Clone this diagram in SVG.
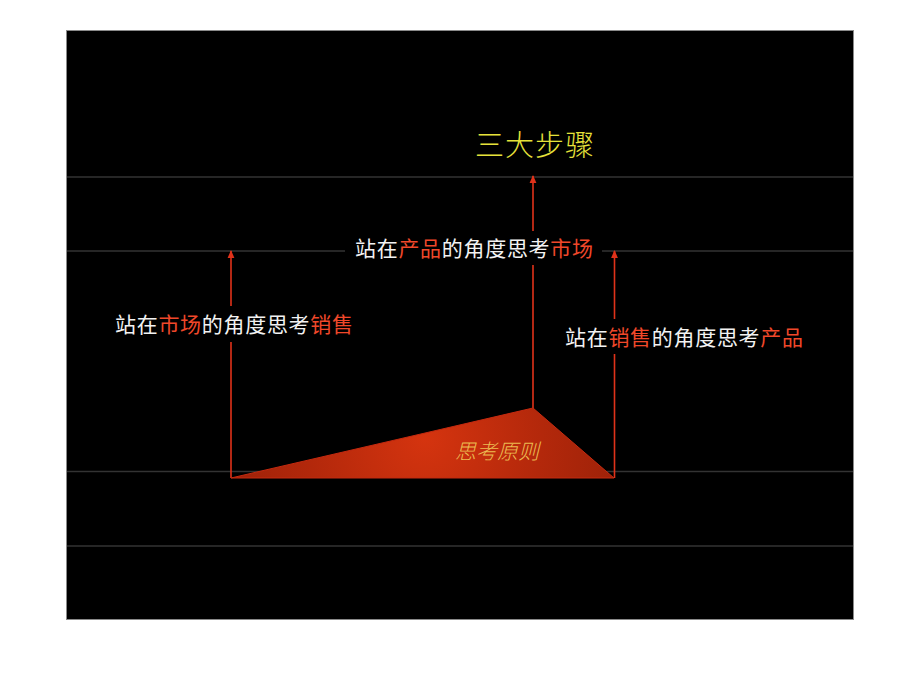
<svg xmlns="http://www.w3.org/2000/svg" width="920" height="690" viewBox="0 0 920 690">
  <style>
    .grid { stroke: #333333; stroke-width: 1.5; }
    .arrow { stroke: #e0321a; stroke-width: 1.6; fill: none; marker-end: url(#ah); }
    .lbl { font-family: "Noto Sans CJK SC", "Noto Sans", sans-serif; font-size: 21px; fill: #f2f2f2; letter-spacing: 0.7px; }
    .hl { fill: #f0482a; }
    .bg { fill: #000000; }
  </style>
  <defs>
    <marker id="ah" markerWidth="8" markerHeight="8" viewBox="0 0 8 8" refX="7" refY="4" orient="auto" markerUnits="userSpaceOnUse">
      <path d="M0,0.6 L8,4 L0,7.4 Z" fill="#e0321a"/>
    </marker>
    <radialGradient id="tri" gradientUnits="userSpaceOnUse" cx="425" cy="438" r="260">
      <stop offset="0" stop-color="#d5340f"/>
      <stop offset="0.45" stop-color="#b3280b"/>
      <stop offset="1" stop-color="#8c1d07"/>
    </radialGradient>
  </defs>

  <rect x="0" y="0" width="920" height="690" fill="#ffffff"/>
  <rect x="66.5" y="30.5" width="787" height="589" fill="#000000" stroke="#8a8a8a" stroke-width="1"/>

  <g id="grid">
    <line class="grid" x1="67" y1="177" x2="853" y2="177"/>
    <line class="grid" x1="67" y1="251" x2="853" y2="251"/>
    <line class="grid" x1="67" y1="471.5" x2="853" y2="471.5"/>
    <line class="grid" x1="67" y1="546" x2="853" y2="546"/>
  </g>

  <g id="connectors">
    <line class="arrow" x1="231" y1="478" x2="231" y2="251"/>
    <line class="arrow" x1="533" y1="408" x2="533" y2="176"/>
    <line class="arrow" x1="614.5" y1="478" x2="614.5" y2="251"/>
  </g>

  <g id="base">
    <polygon points="231,478 533,408 614,478" fill="url(#tri)" stroke="#c42a10" stroke-width="1"/>
    <text x="497" y="459" text-anchor="middle" font-family="Noto Sans CJK SC, Noto Sans, sans-serif" font-size="21" font-style="italic" font-weight="300" fill="#ecbc52">思考原则</text>
  </g>

  <g id="title">
    <text x="535" y="156" text-anchor="middle" font-family="Noto Sans CJK SC, Noto Sans, sans-serif" font-size="29" font-weight="300" fill="#e6e23a" letter-spacing="1">三大步骤</text>
  </g>

  <g id="step-middle">
    <rect class="bg" x="345" y="231" width="257" height="34"/>
    <text class="lbl" x="355" y="256">站在<tspan class="hl">产品</tspan>的角度思考<tspan class="hl">市场</tspan></text>
  </g>

  <g id="step-left">
    <rect class="bg" x="108" y="306" width="252" height="36"/>
    <text class="lbl" x="115" y="332">站在<tspan class="hl">市场</tspan>的角度思考<tspan class="hl">销售</tspan></text>
  </g>

  <g id="step-right">
    <rect class="bg" x="558" y="319" width="252" height="35"/>
    <text class="lbl" x="565" y="345">站在<tspan class="hl">销售</tspan>的角度思考<tspan class="hl">产品</tspan></text>
  </g>
</svg>
